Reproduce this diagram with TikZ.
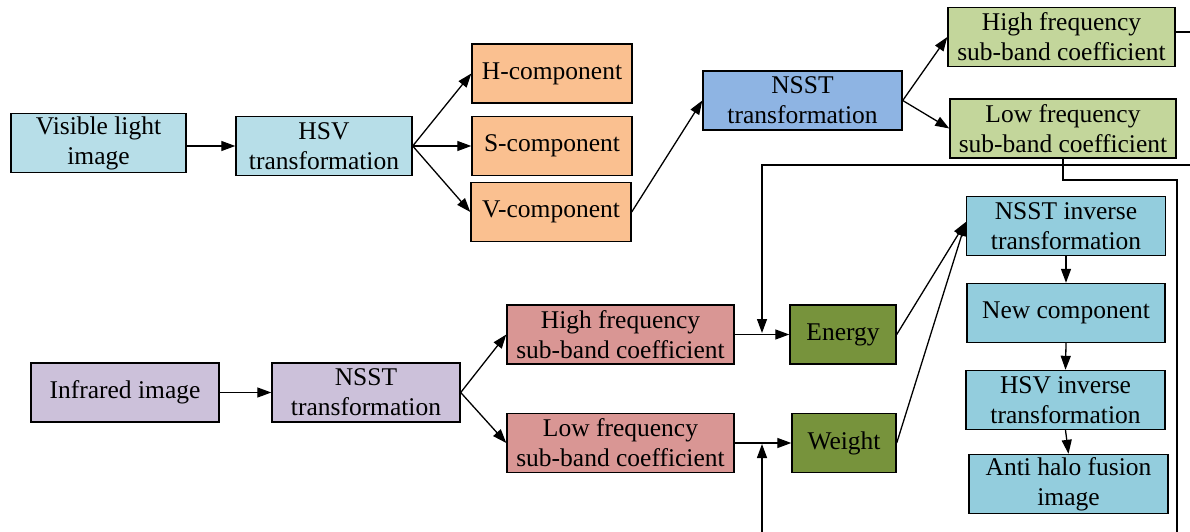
\documentclass[tikz,border=0pt]{standalone}
\usepackage{fontspec}
\setmainfont{Liberation Serif}
\usetikzlibrary{arrows.meta}
\definecolor{visblue}{HTML}{B7DEE8}
\definecolor{peach}{HTML}{FAC090}
\definecolor{nsstblue}{HTML}{8EB4E3}
\definecolor{palegreen}{HTML}{C3D69B}
\definecolor{invcyan}{HTML}{93CDDD}
\definecolor{lilac}{HTML}{CCC1DA}
\definecolor{rose}{HTML}{D99694}
\definecolor{olive}{HTML}{77933C}
\begin{document}
\begin{tikzpicture}[x=1pt,y=-1pt,
    box/.style={draw, line width=1.4pt, inner sep=0pt, minimum height=59pt,
        align=center, font=\fontsize{25.5}{30}\selectfont},
    flow/.style={line width=1.3pt, -{Triangle[length=14pt,width=10pt]}},
    wire/.style={line width=1.3pt}]
    \useasboundingbox (0,0) rectangle (1190,532);

    % Visible light branch
    \node[box,fill=visblue,minimum width=175pt] (vis) at (98.5,143) {Visible light\\image};
    \node[box,fill=visblue,minimum width=176pt] (hsv) at (324,146) {HSV\\transformation};
    \node[box,fill=peach,minimum width=160pt] (hcomp) at (552,73.5) {H-component};
    \node[box,fill=peach,minimum width=160pt] (scomp) at (552,146) {S-component};
    \node[box,fill=peach,minimum width=160pt] (vcomp) at (551,212) {V-component};
    \node[box,fill=nsstblue,minimum width=199pt] (nsstv) at (802.5,100.5) {NSST\\transformation};
    \node[box,fill=palegreen,minimum width=227pt] (highv) at (1061.5,37) {High frequency\\sub-band coefficient};
    \node[box,fill=palegreen,minimum width=226pt] (lowv) at (1063,128.5) {Low frequency\\sub-band coefficient};

    % Infrared branch
    \node[box,fill=lilac,minimum width=188pt] (ir) at (125,392.5) {Infrared image};
    \node[box,fill=lilac,minimum width=188pt] (nsstir) at (366,392.5) {NSST\\transformation};
    \node[box,fill=rose,minimum width=227pt] (highir) at (620.5,334.5) {High frequency\\sub-band coefficient};
    \node[box,fill=rose,minimum width=227pt] (lowir) at (620.5,443) {Low frequency\\sub-band coefficient};
    \node[box,fill=olive,minimum width=106pt] (energy) at (843,334.5) {Energy};
    \node[box,fill=olive,minimum width=104pt] (weight) at (844,443) {Weight};

    % Reconstruction
    \node[box,fill=invcyan,minimum width=199pt] (nsstinv) at (1066,226) {NSST inverse\\transformation};
    \node[box,fill=invcyan,minimum width=198pt] (newcomp) at (1066,313) {New component};
    \node[box,fill=invcyan,minimum width=199pt] (hsvinv) at (1065.5,400) {HSV inverse\\transformation};
    \node[box,fill=invcyan,minimum width=199pt] (anti) at (1068.5,484) {Anti halo fusion\\image};

    % Arrows
    \draw[flow] (vis.east |- hsv.west) -- (hsv.west);
    \draw[flow] (hsv.east) -- (hcomp.west);
    \draw[flow] (hsv.east) -- (scomp.west);
    \draw[flow] (hsv.east) -- (vcomp.west);
    \draw[flow] (vcomp.east) -- (nsstv.west);
    \draw[flow] (nsstv.east) -- (highv.west);
    \draw[flow] (nsstv.east) -- (lowv.west);
    \draw[flow] (ir.east) -- (nsstir.west);
    \draw[flow] (nsstir.east) -- (highir.west);
    \draw[flow] (nsstir.east) -- (lowir.west);
    \draw[flow] (highir.east) -- (energy.west);
    \draw[flow] (lowir.east) -- (weight.west);
    \draw[flow] (energy.east) -- ([yshift=4pt]nsstinv.west);
    \draw[flow] (weight.east) -- ([yshift=4pt]nsstinv.west);
    \draw[flow] (nsstinv.south) -- (newcomp.north);
    \draw[flow] (newcomp.south) -- (hsvinv.north);
    \draw[flow] (hsvinv.south) -- (anti.north);

    % Feedback wires (cut at the edge)
    \coordinate (hvOut) at (1190,32);
    \coordinate (topIn) at (1190,165);
    \coordinate (eIn) at (762,333);
    \coordinate (turn) at (1177,180);
    \coordinate (botOut) at (1177,532);
    \coordinate (botIn) at (762,532);
    \coordinate (wIn) at (762,444);
    \draw[wire] (highv.east |- hvOut) -- (hvOut);
    \draw[flow] (topIn) -| (eIn);
    \draw[wire] (lowv.south) |- (turn) -- (botOut);
    \draw[flow] (botIn) -- (wIn);
\end{tikzpicture}
\end{document}
